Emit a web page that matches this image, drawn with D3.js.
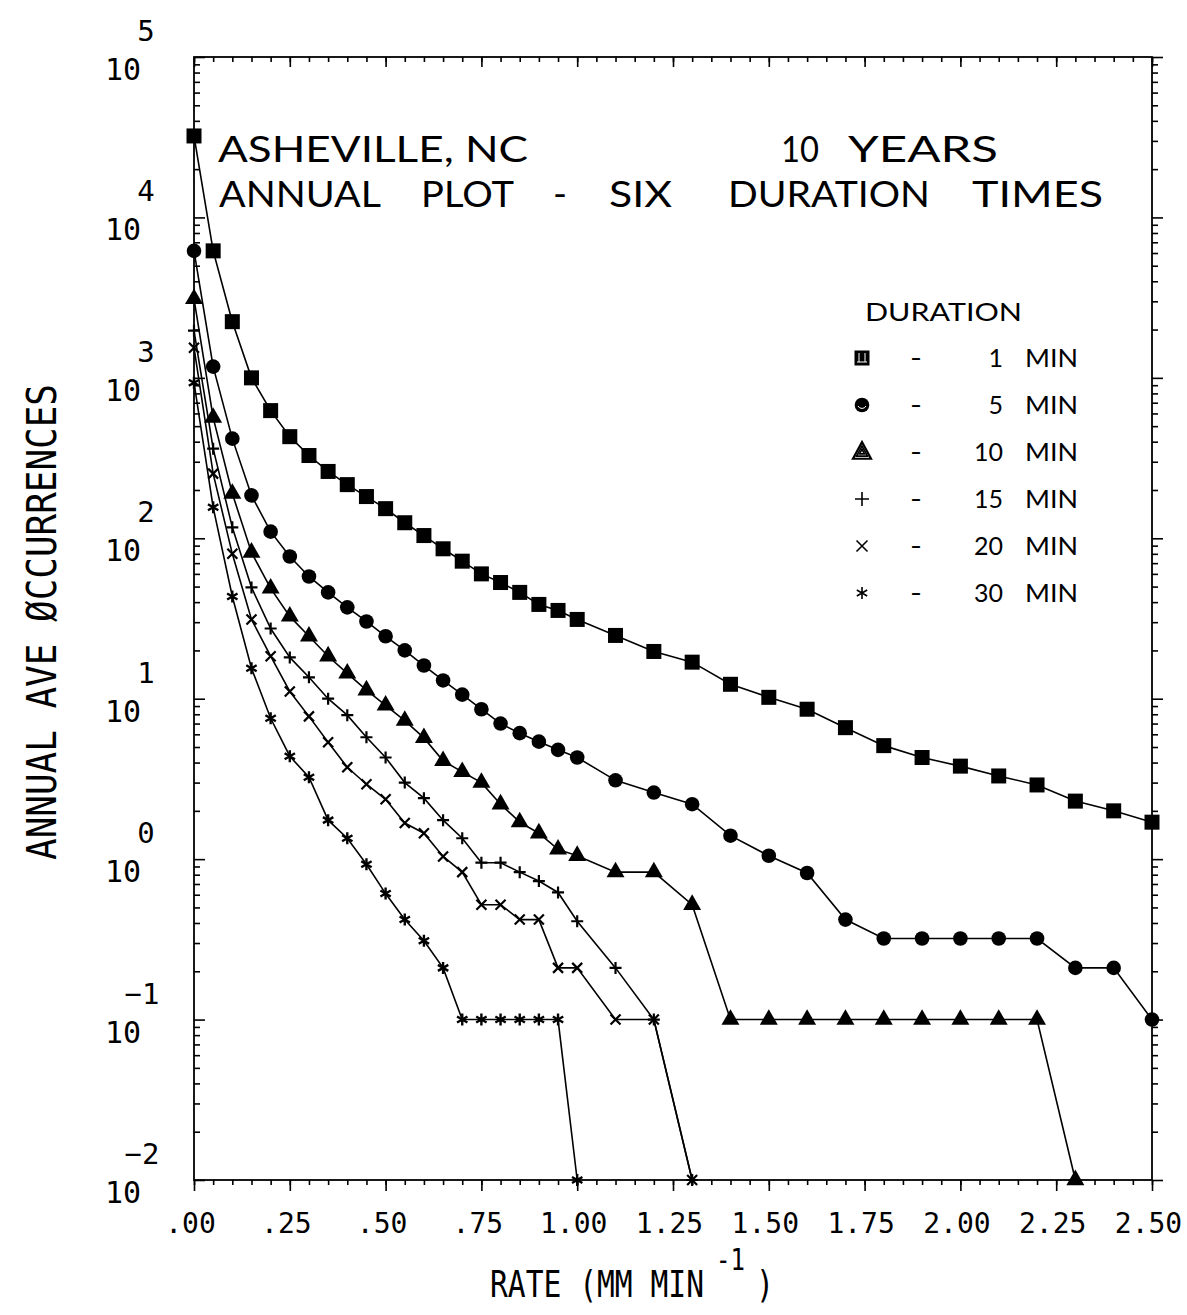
<!DOCTYPE html>
<html>
<head>
<meta charset="utf-8">
<script src="https://cdn.jsdelivr.net/npm/d3@7"></script>
<style>
  body { margin: 0; background: #fff; }
  svg text { fill: #000; }
</style>
</head>
<body>
<svg id="chart" width="1187" height="1315"></svg>
<script>
// Rainfall rate bins (mm/min): 0.05 steps up to 1.00, then 0.10 steps to 2.50
const rates = [0.00, 0.05, 0.10, 0.15, 0.20, 0.25, 0.30, 0.35, 0.40, 0.45, 0.50,
               0.55, 0.60, 0.65, 0.70, 0.75, 0.80, 0.85, 0.90, 0.95, 1.00,
               1.10, 1.20, 1.30, 1.40, 1.50, 1.60, 1.70, 1.80, 1.90, 2.00,
               2.10, 2.20, 2.30, 2.40, 2.50];

// Annual average occurrences for each averaging duration (0.01 = none recorded, plotted on the floor)
const occ1min = [32200, 6190, 2240, 1000, 625, 430, 328, 261, 216, 182, 153,
                 125, 104, 86, 72, 60, 53, 46, 38.7, 35.5, 31.2,
                 24.8, 19.7, 16.9, 12.3, 10.2, 8.6, 6.6, 5.1, 4.3, 3.8,
                 3.3, 2.9, 2.3, 2.0, 1.7];
const occ5min = [6190, 1175, 418, 185, 110, 77, 57.8, 46, 37.1, 30.3, 24.5,
                 20, 16.1, 13.0, 10.6, 8.6, 7.0, 6.1, 5.4, 4.8, 4.3,
                 3.1, 2.6, 2.2, 1.4, 1.05, 0.82, 0.42, 0.32, 0.32, 0.32,
                 0.32, 0.32, 0.21, 0.21, 0.1];
const occ10min = [3110, 565, 190, 81.6, 48.7, 32.6, 24.5, 18.4, 14.4, 11.3, 9.1,
                  7.3, 5.7, 4.1, 3.5, 3.0, 2.2, 1.7, 1.45, 1.15, 1.05,
                  0.83, 0.83, 0.52, 0.1, 0.1, 0.1, 0.1, 0.1, 0.1, 0.1,
                  0.1, 0.1, 0.01];
const occ15min = [1968, 362, 117, 49.4, 27.4, 18.1, 13.6, 10.0, 7.9, 5.75, 4.3,
                  3.0, 2.4, 1.75, 1.35, 0.95, 0.95, 0.83, 0.73, 0.62, 0.41,
                  0.21, 0.1, 0.01];
const occ20min = [1542, 253, 80, 31.2, 18.4, 11.1, 7.76, 5.36, 3.74, 2.93, 2.36,
                  1.68, 1.45, 1.04, 0.83, 0.52, 0.52, 0.42, 0.42, 0.21, 0.21,
                  0.1, 0.1, 0.01];
const occ30min = [933, 156, 43.4, 15.5, 7.55, 4.38, 3.24, 1.75, 1.35, 0.93, 0.61,
                  0.42, 0.31, 0.21, 0.1, 0.1, 0.1, 0.1, 0.1, 0.1, 0.01];

const durations = ["1", "5", "10", "15", "20", "30"];
const markerKinds = ["square", "circle", "triangle", "plus", "cross", "star"];
const seriesValues = [occ1min, occ5min, occ10min, occ15min, occ20min, occ30min];

// Axis ticks and labels
const rateMajorTicks = [0, 0.25, 0.5, 0.75, 1.0, 1.25, 1.5, 1.75, 2.0, 2.25, 2.5];
const rateTickLabels = [".00", ".25", ".50", ".75", "1.00", "1.25", "1.50", "1.75", "2.00", "2.25", "2.50"];
const decadeExponents = [5, 4, 3, 2, 1, 0, -1, -2];

const svg = d3.select("#chart");
const plotLeft = 194, plotRight = 1152, plotTop = 57, plotBottom = 1180;

const x = d3.scaleLinear().domain([0, 2.5]).range([plotLeft, plotRight]);
const y = d3.scaleLog().domain([1e-2, 1e5]).range([plotBottom, plotTop]);

const mono = "'DejaVu Sans Mono', 'Liberation Mono', monospace";
const sans = "'Lato', 'DejaVu Sans', sans-serif";

// ---- frame and tick marks ----
const minorRates = d3.range(0, 51).map(i => i * 0.05);
const minorDecades = [];
for (let e = -2; e < 5; e++) for (let m = 2; m <= 9; m++) minorDecades.push(m * Math.pow(10, e));
const decades = decadeExponents.map(e => Math.pow(10, e));

function plain(g) {
  g.select(".domain").remove();
  g.selectAll(".tick line").attr("stroke", "#000").attr("stroke-width", 1.6);
}

// bottom: ticks point outward
svg.append("g").attr("transform", `translate(0,${plotBottom})`)
  .call(d3.axisBottom(x).tickValues(minorRates).tickSize(5).tickFormat(""))
  .call(plain);
const bottomAxis = svg.append("g").attr("transform", `translate(0,${plotBottom})`)
  .call(d3.axisBottom(x).tickValues(rateMajorTicks).tickSize(11).tickPadding(22)
        .tickFormat((d, i) => rateTickLabels[i]))
  .call(plain);
bottomAxis.selectAll("text")
  .attr("font-family", mono).attr("font-size", 28).attr("fill", "#000")
  .attr("dx", -4);

// top: ticks point inward
svg.append("g").attr("transform", `translate(0,${plotTop})`)
  .call(d3.axisBottom(x).tickValues(minorRates).tickSize(5).tickFormat(""))
  .call(plain);
svg.append("g").attr("transform", `translate(0,${plotTop})`)
  .call(d3.axisBottom(x).tickValues(rateMajorTicks).tickSize(10).tickFormat(""))
  .call(plain);

// left: ticks point inward
svg.append("g").attr("transform", `translate(${plotLeft},0)`)
  .call(d3.axisRight(y).tickValues(minorDecades).tickSize(6).tickFormat(""))
  .call(plain);
svg.append("g").attr("transform", `translate(${plotLeft},0)`)
  .call(d3.axisRight(y).tickValues(decades).tickSize(11).tickFormat(""))
  .call(plain);

// right: ticks point outward
svg.append("g").attr("transform", `translate(${plotRight},0)`)
  .call(d3.axisRight(y).tickValues(minorDecades).tickSize(6).tickFormat(""))
  .call(plain);
svg.append("g").attr("transform", `translate(${plotRight},0)`)
  .call(d3.axisRight(y).tickValues(decades).tickSize(11).tickFormat(""))
  .call(plain);

svg.append("rect")
  .attr("x", plotLeft).attr("y", plotTop)
  .attr("width", plotRight - plotLeft).attr("height", plotBottom - plotTop)
  .attr("fill", "none").attr("stroke", "#000").attr("stroke-width", 1.8);

// ---- y tick labels: 10 with exponent ----
const yLab = svg.append("g").attr("font-family", mono);
decadeExponents.forEach(e => {
  const ty = y(Math.pow(10, e));
  yLab.append("text").attr("x", 123).attr("y", ty + 23)
    .attr("text-anchor", "middle").attr("font-size", 30).text("10");
  yLab.append("text").attr("x", e < 0 ? 142 : 146).attr("y", ty - 16)
    .attr("text-anchor", "middle").attr("font-size", 29)
    .text(e < 0 ? "\u2212" + Math.abs(e) : String(e));
});

// ---- axis titles ----
svg.append("g").attr("transform", "translate(56,622) rotate(-90) scale(1,1.2)")
  .append("text")
  .attr("text-anchor", "middle")
  .attr("font-family", mono).attr("font-size", 34)
  .attr("textLength", 476).attr("lengthAdjust", "spacingAndGlyphs")
  .text("ANNUAL AVE \u00D8CCURRENCES");

const xTitle = svg.append("g").attr("transform", "translate(490,1297) scale(1,1.25)")
  .attr("font-family", mono);
xTitle.append("text").attr("x", 0).attr("y", 0).attr("font-size", 30)
  .attr("textLength", 214).attr("lengthAdjust", "spacingAndGlyphs")
  .text("RATE (MM MIN");
xTitle.append("text").attr("x", 226).attr("y", -22).attr("font-size", 24)
  .text("-1");
xTitle.append("text").attr("x", 266).attr("y", 0).attr("font-size", 30)
  .text(")");

// ---- title block ----
const titleParts = [
  { t: "ASHEVILLE, NC", x: 218, y: 162, w: 310 },
  { t: "10", x: 781, y: 162, w: 38 },
  { t: "YEARS", x: 848, y: 162, w: 150 },
  { t: "ANNUAL", x: 219, y: 207, w: 162 },
  { t: "PLOT", x: 421, y: 207, w: 93 },
  { t: "-", x: 553, y: 207, w: 14 },
  { t: "SIX", x: 609, y: 207, w: 63 },
  { t: "DURATION", x: 728, y: 207, w: 202 },
  { t: "TIMES", x: 972, y: 207, w: 131 }
];
svg.append("g").attr("font-family", sans).attr("font-size", 37)
  .selectAll("text").data(titleParts).join("text")
  .attr("x", d => d.x).attr("y", d => d.y)
  .attr("textLength", d => d.w).attr("lengthAdjust", "spacingAndGlyphs")
  .text(d => d.t);

// ---- markers ----
function drawMarker(g, kind, cx, cy, legend) {
  const s = g.append("g").attr("transform", `translate(${cx},${cy})`);
  if (kind === "square") {
    s.append("rect").attr("x", -7.5).attr("y", -7.5).attr("width", 15).attr("height", 15).attr("fill", "#000");
    if (legend) {
      s.append("path").attr("d", "M-3,-5V4M3,-5V4M-5,4H5").attr("stroke", "#fff").attr("stroke-width", 1);
    }
  } else if (kind === "circle") {
    s.append("circle").attr("r", 7.3).attr("fill", "#000");
    if (legend) {
      s.append("path").attr("d", "M-4,1A4.5,4.5 0 0 0 4,1").attr("fill", "none").attr("stroke", "#fff").attr("stroke-width", 1);
    }
  } else if (kind === "triangle") {
    if (legend) {
      [9, 5.5, 2.5].forEach((r, i) => {
        s.append("path").attr("d", `M0,${-r * 1.1}L${r},${r * 0.75}L${-r},${r * 0.75}Z`)
          .attr("fill", "none").attr("stroke", "#000").attr("stroke-width", i === 0 ? 2.2 : 1.6);
      });
    } else {
      s.append("path").attr("d", d3.symbol(d3.symbolTriangle, 140)()).attr("fill", "#000");
    }
  } else if (kind === "plus") {
    const r = legend ? 7 : 6;
    s.append("path").attr("d", `M${-r},0H${r}M0,${-r}V${r}`).attr("stroke", "#000").attr("stroke-width", legend ? 1.6 : 2.2);
  } else if (kind === "cross") {
    const r = legend ? 5.5 : 5;
    s.append("path").attr("d", `M${-r},${-r}L${r},${r}M${-r},${r}L${r},${-r}`).attr("stroke", "#000").attr("stroke-width", legend ? 1.6 : 2.2);
  } else if (kind === "star") {
    const r = 6;
    const a = r * 0.866, b = r * 0.5;
    s.append("path").attr("d", `M0,${-r}V${r}M${-a},${-b}L${a},${b}M${-a},${b}L${a},${-b}`)
      .attr("stroke", "#000").attr("stroke-width", legend ? 1.6 : 2.4);
  }
}

// ---- curves ----
const line = d3.line().x(d => x(d[0])).y(d => y(d[1]));
const curves = svg.append("g");
seriesValues.forEach((vals, si) => {
  const pts = vals.map((v, i) => [rates[i], v]);
  curves.append("path").datum(pts).attr("d", line)
    .attr("fill", "none").attr("stroke", "#000").attr("stroke-width", 1.6);
  pts.forEach(p => drawMarker(curves, markerKinds[si], x(p[0]), y(p[1]), false));
});

// ---- legend ----
const legend = svg.append("g").attr("font-family", sans).attr("font-size", 25);
legend.append("text").attr("x", 865).attr("y", 321)
  .attr("textLength", 157).attr("lengthAdjust", "spacingAndGlyphs").text("DURATION");
durations.forEach((d, i) => {
  const by = 367 + i * 47;
  drawMarker(legend, markerKinds[i], 862, by - 9, true);
  legend.append("text").attr("x", 910).attr("y", by).attr("textLength", 12)
    .attr("lengthAdjust", "spacingAndGlyphs").text("-");
  legend.append("text").attr("x", 1003).attr("y", by).attr("text-anchor", "end").text(d);
  legend.append("text").attr("x", 1025).attr("y", by)
    .attr("textLength", 53).attr("lengthAdjust", "spacingAndGlyphs").text("MIN");
});
</script>
</body>
</html>
